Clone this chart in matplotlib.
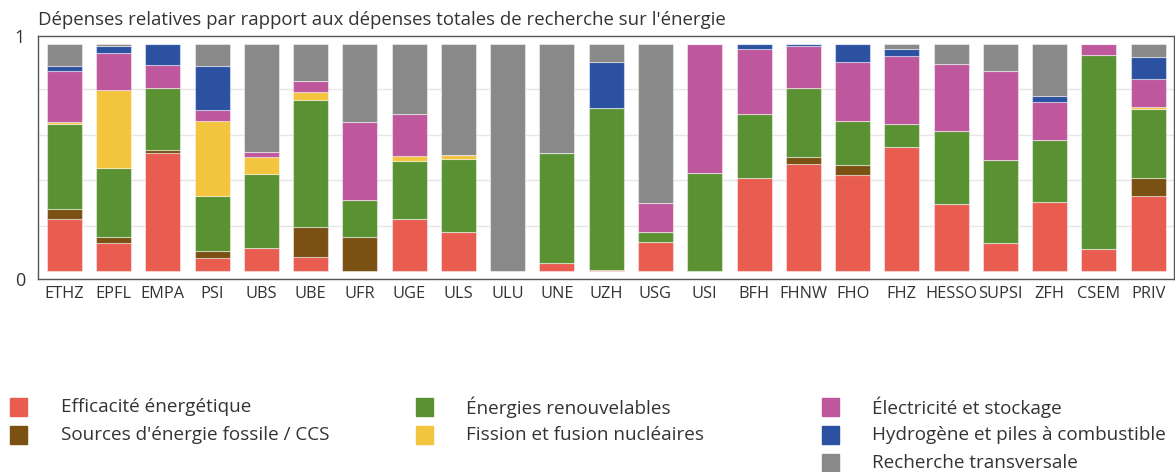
import numpy as np
import matplotlib.pyplot as plt

plt.rcParams['font.family'] = ['Open Sans', 'DejaVu Sans']

institutions = ['ETHZ', 'EPFL', 'EMPA', 'PSI', 'UBS', 'UBE', 'UFR', 'UGE', 'ULS', 'ULU',
                'UNE', 'UZH', 'USG', 'USI', 'BFH', 'FHNW', 'FHO', 'FHZ', 'HESSO', 'SUPSI',
                'ZFH', 'CSEM', 'PRIV']

# shares per category (bottom to top)
efficacite = [0.229, 0.122, 0.520, 0.056, 0.103, 0.060, 0.000, 0.229, 0.172, 0.000,
              0.034, 0.004, 0.126, 0.000, 0.408, 0.470, 0.423, 0.546, 0.297, 0.122,
              0.304, 0.098, 0.330]
fossile = [0.043, 0.026, 0.012, 0.034, 0.000, 0.135, 0.148, 0.000, 0.000, 0.000,
           0.000, 0.000, 0.000, 0.000, 0.000, 0.032, 0.044, 0.000, 0.000, 0.000,
           0.000, 0.000, 0.081]
renouvelables = [0.374, 0.307, 0.273, 0.239, 0.326, 0.559, 0.166, 0.254, 0.323, 0.000,
                 0.486, 0.712, 0.047, 0.430, 0.282, 0.302, 0.195, 0.100, 0.319, 0.367,
                 0.273, 0.853, 0.304]
nucleaire = [0.012, 0.342, 0.000, 0.333, 0.075, 0.035, 0.000, 0.023, 0.016, 0.000,
             0.000, 0.000, 0.000, 0.000, 0.000, 0.000, 0.000, 0.000, 0.000, 0.000,
             0.000, 0.000, 0.007]
electricite = [0.221, 0.162, 0.104, 0.046, 0.021, 0.050, 0.344, 0.184, 0.000, 0.000,
               0.000, 0.000, 0.125, 0.570, 0.288, 0.185, 0.258, 0.302, 0.295, 0.392,
               0.167, 0.048, 0.122]
hydrogene = [0.026, 0.032, 0.091, 0.195, 0.000, 0.000, 0.000, 0.000, 0.000, 0.000,
             0.000, 0.206, 0.000, 0.000, 0.022, 0.010, 0.079, 0.028, 0.000, 0.000,
             0.028, 0.000, 0.100]
transversale = [0.095, 0.009, 0.000, 0.097, 0.476, 0.160, 0.342, 0.310, 0.489, 1.000,
                0.480, 0.078, 0.702, 0.000, 0.000, 0.000, 0.000, 0.023, 0.090, 0.119,
                0.228, 0.000, 0.056]

labels = ['Efficacité énergétique', "Sources d'énergie fossile / CCS",
          'Énergies renouvelables', 'Fission et fusion nucléaires',
          'Électricité et stockage', 'Hydrogène et piles à combustible',
          'Recherche transversale']
colors = ['#E95C50', '#7B5113', '#5A9233', '#F3C43D', '#BE579C', '#2C51A1', '#898989']
series = [efficacite, fossile, renouvelables, nucleaire, electricite, hydrogene, transversale]

fig = plt.figure(figsize=(11.75, 4.72), dpi=100)
ax = fig.add_axes([0.032, 0.409, 0.967, 0.5147])

x = np.arange(len(institutions))
bottom = np.zeros(len(institutions))
for vals, col in zip(series, colors):
    vals = np.array(vals)
    ax.bar(x, vals, 0.71, bottom=bottom, color=col, edgecolor=(1, 1, 1, 0.45),
           linewidth=0.8, zorder=3)
    bottom += vals

ylo, yhi = -0.035, 1.035
ax.set_ylim(ylo, yhi)
ax.set_xlim(-0.54, 22.52)
for g in [0.2, 0.4, 0.6, 0.8]:
    ax.axhline(g, color='#e6e6e6', linewidth=1, zorder=1)

ax.set_yticks([ylo, yhi])
ax.set_yticklabels(['0', '1'], fontsize=13, color='#333333')
ax.set_xticks(x)
ax.set_xticklabels(institutions, fontsize=11.8, color='#333333')
ax.tick_params(length=0, pad=5)
ax.tick_params(axis='y', pad=9)
for s in ax.spines.values():
    s.set_color('#555555')
    s.set_linewidth(1)

fig.text(0.032, 0.957, "Dépenses relatives par rapport aux dépenses totales de recherche sur l'énergie",
         fontsize=13.4, color='#333333', va='center', ha='left')

# legend in three columns
cols_x = [0.0085, 0.354, 0.6995]
rows_y = [0.137, 0.078, 0.020]
layout = [(0, 0), (0, 1), (1, 0), (1, 1), (2, 0), (2, 1), (2, 2)]
for (c, r), lab, col in zip(layout, labels, colors):
    fig.patches.append(plt.Rectangle((cols_x[c], rows_y[r] - 0.019), 0.0145, 0.038,
                                     transform=fig.transFigure, color=col, figure=fig))
    fig.text(cols_x[c] + 0.043, rows_y[r], lab, fontsize=13.6, color='#333333',
             va='center', ha='left')

fig.savefig('out.png', dpi=100)
